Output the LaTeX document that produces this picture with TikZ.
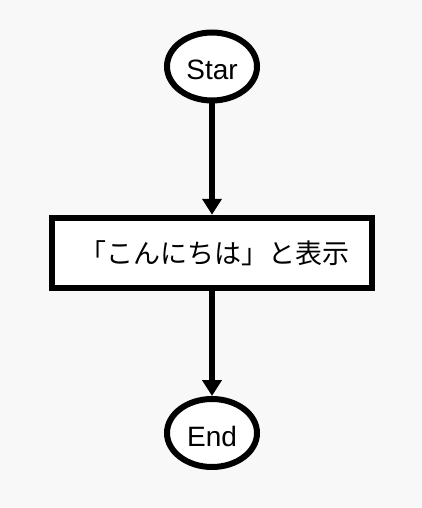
\documentclass[tikz,border=0pt]{standalone}
\usepackage{fontspec}
\setmainfont{Liberation Sans}
\newfontfamily\jpfont{Noto Sans CJK JP}
\usetikzlibrary{shapes.geometric,arrows.meta}
\definecolor{bg}{RGB}{248,248,248}
\begin{document}
\begin{tikzpicture}[x=1pt,y=-1pt,
  terminal/.style={ellipse, draw, fill=white, line width=6pt, minimum width=90pt, minimum height=68pt, inner sep=0pt, text height=28pt, text depth=2pt, font=\fontsize{28}{32}\selectfont},
  process/.style={rectangle, draw, fill=white, line width=6.5pt, minimum width=320pt, minimum height=70pt, inner sep=0pt, font=\jpfont\fontsize{27}{32}\selectfont},
  flow/.style={line width=6pt, -{Triangle[width=19pt,length=16pt]}}]
\fill[bg] (0,0) rectangle (422,508);
\useasboundingbox (0,0) rectangle (422,508);
\node[terminal] (start) at (212,66.5) {Star};
\node[process] (disp) at (212,253) {\hspace*{5pt}「こんにちは」と表示};
\node[terminal] (end) at (212,433) {End};
\draw[flow] (start.south) -- (disp.north);
\draw[flow] (disp.south) -- (end.north);
\end{tikzpicture}
\end{document}
